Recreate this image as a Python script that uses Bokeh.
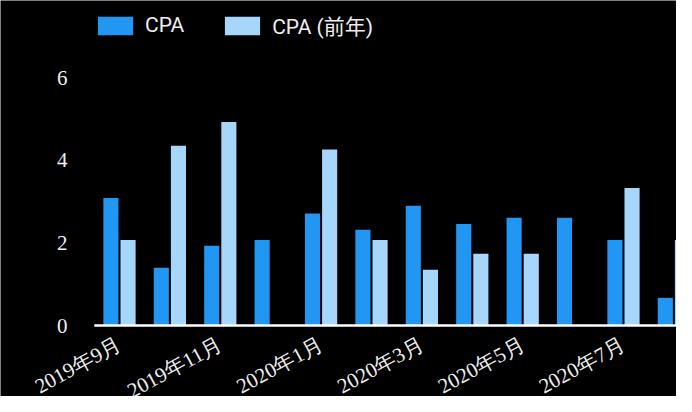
import numpy as np
from bokeh.plotting import figure
from bokeh.models import ColumnDataSource, Legend, LegendItem, Range1d, LabelSet
from bokeh.transform import dodge
from bokeh.embed import file_html
from bokeh.resources import INLINE

months = ["2019年9月", "2019年10月", "2019年11月", "2019年12月", "2020年1月", "2020年2月",
          "2020年3月", "2020年4月", "2020年5月", "2020年6月", "2020年7月", "2020年8月"]
cpa = [3.09, 1.40, 1.93, 2.07, 2.71, 2.32, 2.90, 2.46, 2.61, 2.61, 2.07, 0.67]
cpa_prev = [2.07, 4.35, 4.93, np.nan, 4.26, 2.07, 1.35, 1.74, 1.74, np.nan, 3.33, 2.07]
tick_idx = [0, 2, 4, 6, 8, 10]
tick_labels = [months[i] for i in tick_idx]
y_ticks = [0, 2, 4, 6]
y_tick_labels = [str(v) for v in y_ticks]

FONT = "Roboto, 'Noto Sans CJK JP'"
TXT = "#eeeeee"
C1 = "#2196F3"
C2 = "#A6D6FA"
X_START = -2.361
X_END = 11.052
Y_TOP = 7.869
Y_BOT = -1.719

src = ColumnDataSource(dict(x=list(range(len(months))), cpa=cpa, prev=cpa_prev))
xtick_src = ColumnDataSource(dict(x=tick_idx, text=tick_labels))
ytick_src = ColumnDataSource(dict(y=y_ticks, text=y_tick_labels))

p = figure(width=676, height=396, output_backend="svg", toolbar_location=None,
           x_range=Range1d(X_START, X_END), y_range=Range1d(Y_BOT, Y_TOP),
           min_border_left=0, min_border_right=0, min_border_top=0, min_border_bottom=0,
           outline_line_color=None,
           background_fill_color="#000000", border_fill_color="#000000")
p.xgrid.visible = False
p.ygrid.visible = False
p.xaxis.visible = False
p.yaxis.visible = False

r1 = p.vbar(x=dodge("x", -0.17, range=p.x_range), top="cpa", width=0.3, bottom=0,
            source=src, fill_color=C1, line_color=None)
r2 = p.vbar(x=dodge("x", 0.17, range=p.x_range), top="prev", width=0.3, bottom=0,
            source=src, fill_color=C2, line_color=None)

# baseline (x axis line) at value 0, spanning the category band
p.segment(x0=[-0.5], y0=[0], x1=[len(months) - 0.5], y1=[0],
          line_color="#ffffff", line_width=2.5)

# rotated month tick labels on the x scale, below the baseline
p.add_layout(LabelSet(x="x", y=54, y_units="screen", text="text", source=xtick_src,
                      angle=0.5, text_align="right", text_baseline="middle",
                      text_font=FONT, text_font_size="21px", text_color=TXT))

# y tick labels on the y scale
p.add_layout(LabelSet(x=67, x_units="screen", y="y", text="text", source=ytick_src,
                      text_align="right", text_baseline="middle",
                      text_font=FONT, text_font_size="21px", text_color=TXT))

legend = Legend(items=[LegendItem(label="CPA", renderers=[r1]),
                       LegendItem(label="CPA (前年)", renderers=[r2])],
                location=(93, 356), orientation="horizontal",
                glyph_width=44, glyph_height=23, label_standoff=8, spacing=36,
                padding=0, margin=0, border_line_color=None, background_fill_alpha=0,
                label_text_color=TXT, label_text_font=FONT, label_text_font_size="21px",
                label_height=23)
p.add_layout(legend)

open("out.html", "w").write(file_html(p, INLINE))
